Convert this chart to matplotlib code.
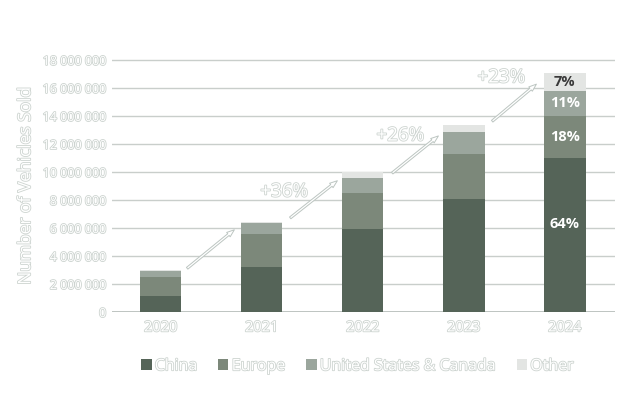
import numpy as np
import matplotlib
matplotlib.use('Agg')
import matplotlib.pyplot as plt
import matplotlib.patheffects as pe

# -----------------------------------------------------------------------
# Data
# -----------------------------------------------------------------------
YEARS = ['2020', '2021', '2022', '2023', '2024']
SERIES = ['China', 'Europe', 'United States & Canada', 'Other']
CHINA = [1.14e6, 3.25e6, 5.90e6, 8.10e6, 11.02e6]
EUROPE = [1.38e6, 2.30e6, 2.58e6, 3.16e6, 2.96e6]
US_CANADA = [0.40e6, 0.78e6, 1.12e6, 1.60e6, 1.83e6]
OTHER = [0.08e6, 0.07e6, 0.38e6, 0.50e6, 1.24e6]
SHARE_2024 = ['64%', '18%', '11%', '7%']
GROWTH = ['+36%', '+26%', '+23%']

COLORS = ['#556458', '#7c887a', '#9ba69d', '#e3e5e3']
TXT = '#ffffff'
HALO = [pe.withStroke(linewidth=1.2, foreground='#cdd4d0')]

plt.rcParams['font.family'] = ['Open Sans', 'DejaVu Sans']

fig = plt.figure(figsize=(6.35, 3.93), dpi=100)
ax = fig.add_axes([0.176, 0.206, 0.793, 0.645])

x = np.arange(len(YEARS))
bottom = np.zeros(len(YEARS))
stacks = [CHINA, EUROPE, US_CANADA, OTHER]
for vals, col, name in zip(stacks, COLORS, SERIES):
    ax.bar(x, vals, 0.41, bottom=bottom, color=col, label=name, zorder=3)
    bottom += np.array(vals)

# share labels on the 2024 bar
b = 0.0
for vals, lbl in zip(stacks, SHARE_2024):
    v = vals[-1]
    mid = b + v / 2 if lbl != '64%' else b + v * 0.57
    ax.text(x[-1], mid, lbl, ha='center', va='center', fontsize=10.5,
            fontweight='bold', color='#3a3a3a' if lbl == '7%' else 'white',
            zorder=5)
    b += v

# growth arrows
arrows = [((0.24, 3.0e6), (0.75, 6.0e6)),
          ((1.26, 6.6e6), (1.77, 9.5e6)),
          ((2.27, 9.8e6), (2.77, 12.7e6)),
          ((3.26, 13.5e6), (3.74, 16.4e6))]
for (s, e) in arrows:
    ax.annotate('', xy=e, xytext=s, zorder=4,
                arrowprops=dict(arrowstyle='simple,head_length=0.55,head_width=0.4,tail_width=0.16',
                                fc='white', ec='#bcc5c1', lw=0.7))
label_pos = [(1.22, 8.6e6), (2.37, 12.6e6), (3.37, 16.75e6)]
for (px, py), g in zip(label_pos, GROWTH):
    ax.text(px, py, g, ha='center', va='center', fontsize=13.5, color=TXT,
            path_effects=HALO, zorder=5)

ax.set_xlim(-0.485, 4.5)
ax.set_ylim(0, 18.1e6)
ax.set_yticks(np.arange(0, 18.1e6, 2e6))
ax.set_yticklabels([f'{int(v):,}'.replace(',', ' ') for v in np.arange(0, 18.1e6, 2e6)])
ax.set_xticks(x)
ax.set_xticklabels(YEARS)
ax.grid(axis='y', color='#c9cecb', lw=1.0, zorder=0)
ax.tick_params(length=0, colors=TXT)
ax.tick_params(axis='x', pad=6, labelsize=10.5)
ax.tick_params(axis='y', pad=4, labelsize=9)
for lab in ax.get_xticklabels() + ax.get_yticklabels():
    lab.set_path_effects(HALO)
for sp in ax.spines.values():
    sp.set_visible(False)
ax.axhline(0, color='#b5bcb8', lw=1.2, zorder=2)

ax.set_ylabel('Number of Vehicles Sold', fontsize=12.5, color=TXT,
              path_effects=HALO, labelpad=6)

leg = fig.legend(loc='center', bbox_to_anchor=(0.563, 0.068), ncol=4,
                 frameon=False, fontsize=11.5, handlelength=0.65, handleheight=0.65,
                 handletextpad=0.2, columnspacing=1.3)
for t in leg.get_texts():
    t.set_color(TXT)
    t.set_path_effects(HALO)

fig.savefig('out.png', dpi=100)
